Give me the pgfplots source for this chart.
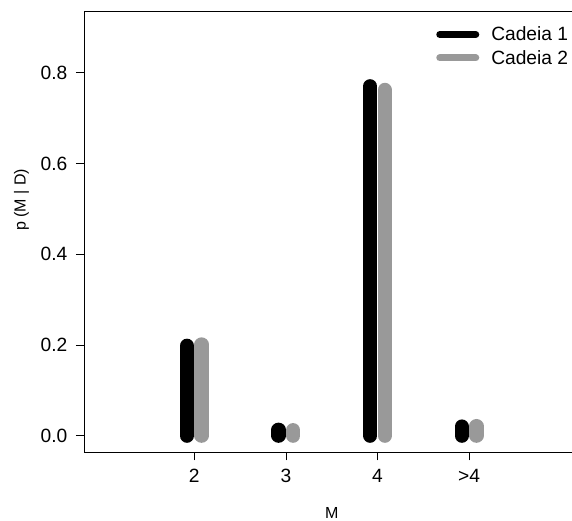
\documentclass[border=0pt]{standalone}
\usepackage{fontspec}
\setmainfont{Liberation Sans}
\usepackage{pgfplots}
\pgfplotsset{compat=1.18}
\definecolor{rgray}{RGB}{153,153,153}
\begin{document}
\begin{tikzpicture}[x=1pt,y=1pt]
\useasboundingbox (-84.4,-69) rectangle (487.6,452);
\clip (-84.4,-69) rectangle (487.6,452);
\begin{axis}[
  at={(0,0)}, anchor=south west,
  scale only axis,
  width=494.6pt, height=441pt,
  xmin=0.8, xmax=6.2,
  ymin=-0.036, ymax=0.936,
  xtick={2,3,4,5},
  xticklabels={2,3,4,>4},
  ytick={0,0.2,0.4,0.6,0.8},
  tick label style={font=\fontsize{19.2}{23}\selectfont},
  xticklabel style={yshift=-5pt},
  yticklabel style={xshift=-5pt, /pgf/number format/.cd, fixed, fixed zerofill, precision=1, assume math mode=true},
  xtick pos=bottom, ytick pos=left,
  tick align=outside,
  major tick length=8.5pt,
  tick style={black, line width=0.8pt},
  axis line style={black, line width=0.8pt},
  xlabel={M}, ylabel={p (M | D)},
  label style={font=\fontsize{16}{19}\selectfont},
  xlabel style={at={(axis description cs:0.5,0)}, anchor=center, yshift=-61pt},
  ylabel style={at={(axis description cs:0,0.506)}, anchor=center, yshift=63pt, xshift=29pt},
  legend style={at={(axis description cs:0.711,0.969)}, anchor=north west, draw=none, fill=none,
    inner sep=0pt, font=\fontsize{19.2}{23}\selectfont, row sep=4pt},
  legend cell align=left,
]
\addplot[ycomb, black, line width=14.3pt, line cap=round,
  legend image code/.code={\draw[black, line width=7pt, line cap=round] (3.5pt,0pt) -- (39.5pt,0pt); \path[draw=none, fill=none] (0pt,0pt) -- (53pt,0pt);}]
  coordinates {(1.92,0.198) (2.92,0.013) (3.92,0.770) (4.92,0.020)};
\addlegendentry{Cadeia 1}
\addplot[ycomb, rgray, line width=14.3pt, line cap=round,
  legend image code/.code={\draw[rgray, line width=7pt, line cap=round] (3.5pt,0pt) -- (39.5pt,0pt); \path[draw=none, fill=none] (0pt,0pt) -- (53pt,0pt);}]
  coordinates {(2.08,0.201) (3.08,0.012) (4.08,0.762) (5.08,0.021)};
\addlegendentry{Cadeia 2}
\end{axis}
\end{tikzpicture}
\end{document}
